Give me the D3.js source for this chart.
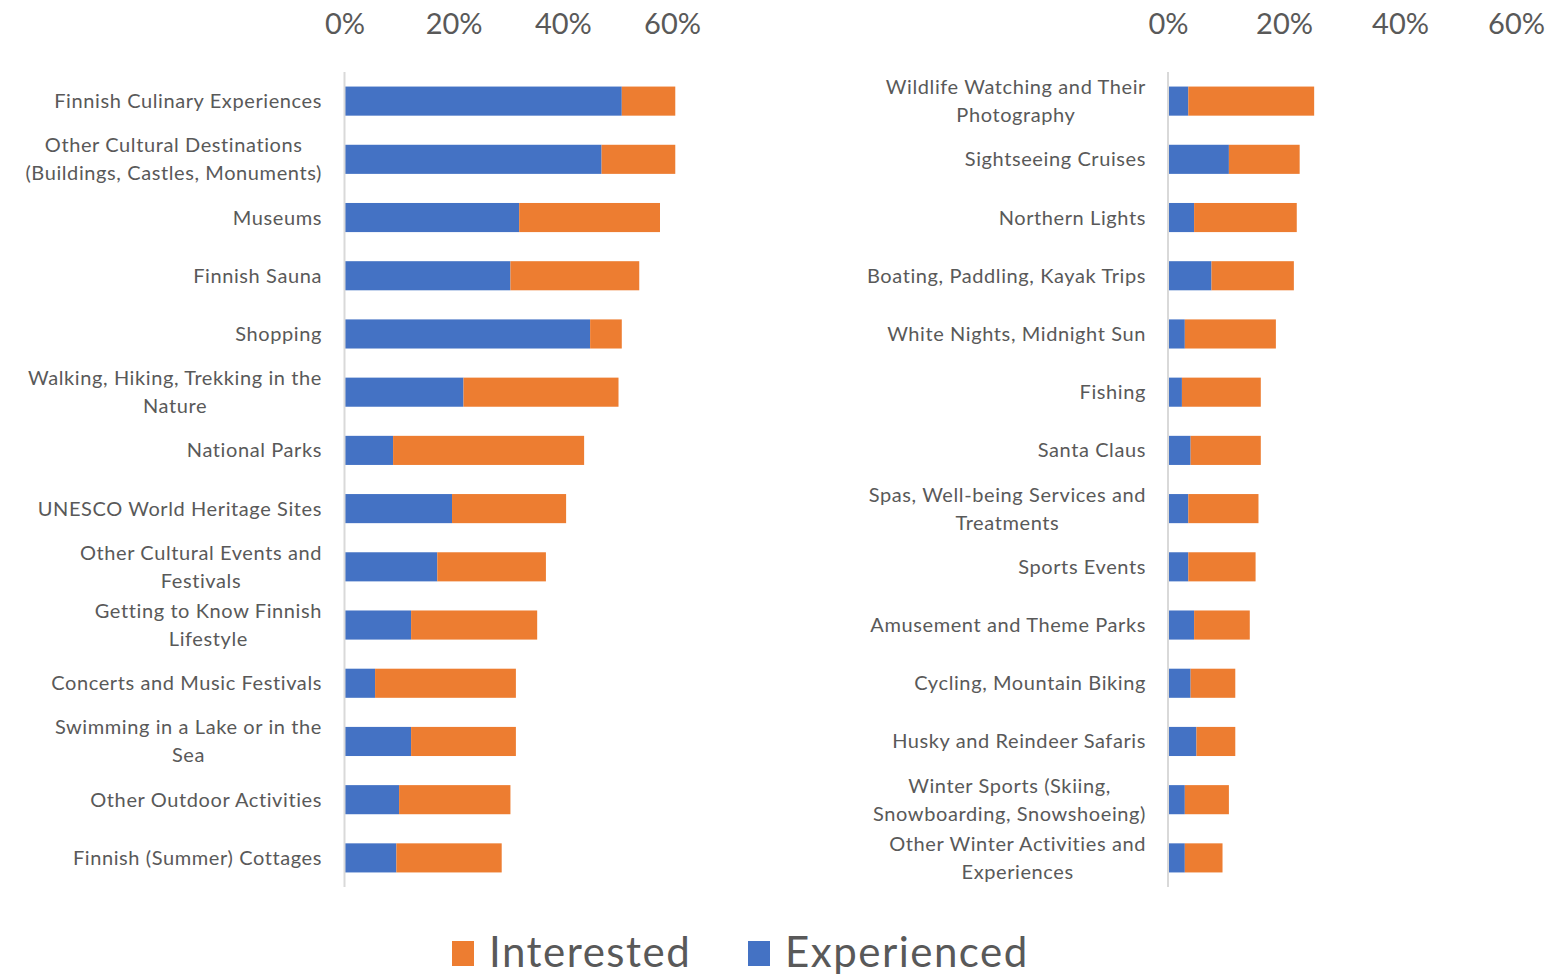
<!DOCTYPE html>
<html>
<head>
<meta charset="utf-8">
<script src="https://cdn.jsdelivr.net/npm/d3@7"></script>
<style>
  html, body { margin: 0; padding: 0; background: #ffffff; }
  svg { display: block; }
</style>
</head>
<body>
<svg id="chart" width="1550" height="976"></svg>
<script>
// ---------------- DATA ----------------
const leftCategories = [
  "Finnish Culinary Experiences",
  "Other Cultural Destinations\n(Buildings, Castles, Monuments)",
  "Museums",
  "Finnish Sauna",
  "Shopping",
  "Walking, Hiking, Trekking in the\nNature",
  "National Parks",
  "UNESCO World Heritage Sites",
  "Other Cultural Events and\nFestivals",
  "Getting to Know Finnish\nLifestyle",
  "Concerts and Music Festivals",
  "Swimming in a Lake or in the\nSea",
  "Other Outdoor Activities",
  "Finnish (Summer) Cottages"
];
const leftExperienced = [0.508, 0.471, 0.320, 0.304, 0.450, 0.218, 0.089, 0.197, 0.170, 0.122, 0.056, 0.122, 0.100, 0.095];
const leftInterested  = [0.098, 0.135, 0.258, 0.236, 0.058, 0.284, 0.350, 0.209, 0.199, 0.231, 0.258, 0.192, 0.204, 0.193];

const rightCategories = [
  "Wildlife Watching and Their\nPhotography",
  "Sightseeing Cruises",
  "Northern Lights",
  "Boating, Paddling, Kayak Trips",
  "White Nights, Midnight Sun",
  "Fishing",
  "Santa Claus",
  "Spas, Well-being Services and\nTreatments",
  "Sports Events",
  "Amusement and Theme Parks",
  "Cycling, Mountain Biking",
  "Husky and Reindeer Safaris",
  "Winter Sports (Skiing,\nSnowboarding, Snowshoeing)",
  "Other Winter Activities and\nExperiences"
];
const rightExperienced = [0.035, 0.105, 0.045, 0.075, 0.029, 0.024, 0.039, 0.035, 0.035, 0.045, 0.039, 0.049, 0.029, 0.029];
const rightInterested  = [0.217, 0.122, 0.177, 0.142, 0.157, 0.136, 0.121, 0.121, 0.116, 0.096, 0.077, 0.067, 0.076, 0.065];

const tickValues = [0, 0.2, 0.4, 0.6];
const seriesNames = ["Interested", "Experienced"];
const seriesColors = ["#ED7D31", "#4472C4"];

// ---------------- DRAW ----------------
const svg = d3.select("#chart");
const FONT = "Lato, 'Open Sans', sans-serif";
const TEXT_COLOR = "#595959";

function drawPanel(cfg) {
  const { categories, experienced, interested, x0, x60, labelRight } = cfg;
  const x = d3.scaleLinear().domain([0, 0.6]).range([x0, x60]);
  const y = d3.scaleBand().domain(categories).range([72, 887])
    .paddingInner(0.5).paddingOuter(0.25);

  const g = svg.append("g");

  // top value axis
  const ax = g.append("g")
    .attr("transform", "translate(0,34)")
    .call(d3.axisTop(x).tickValues(tickValues).tickSize(0).tickPadding(0)
      .tickFormat(d3.format(".0%")));
  ax.select(".domain").remove();
  ax.selectAll("text")
    .attr("font-family", FONT)
    .attr("font-size", 29)
    .attr("fill", TEXT_COLOR)
    .attr("dy", "0");

  // bars
  const rows = categories.map((c, i) => ({ c, e: experienced[i], n: interested[i] }));
  g.append("g").selectAll("rect.exp").data(rows).join("rect")
    .attr("class", "exp")
    .attr("x", d => x(0))
    .attr("y", d => y(d.c))
    .attr("width", d => x(d.e) - x(0))
    .attr("height", y.bandwidth())
    .attr("fill", seriesColors[1]);
  g.append("g").selectAll("rect.int").data(rows).join("rect")
    .attr("class", "int")
    .attr("x", d => x(d.e))
    .attr("y", d => y(d.c))
    .attr("width", d => x(d.e + d.n) - x(d.e))
    .attr("height", y.bandwidth())
    .attr("fill", seriesColors[0]);

  // category axis line
  g.append("line")
    .attr("x1", x(0)).attr("x2", x(0))
    .attr("y1", y.range()[0]).attr("y2", y.range()[1])
    .attr("stroke", "#d9d9d9").attr("stroke-width", 2);

  // category labels (multi-line centered, block right-aligned)
  const lineH = 28;
  categories.forEach(c => {
    const lines = c.split("\n");
    const cy = y(c) + y.bandwidth() / 2;
    const t = g.append("text")
      .attr("font-family", FONT)
      .attr("font-size", 20)
      .attr("letter-spacing", "0.6px")
      .attr("fill", TEXT_COLOR)
      .attr("text-anchor", "middle");
    const spans = lines.map((ln, i) => t.append("tspan")
      .attr("y", cy + (i - (lines.length - 1) / 2) * lineH)
      .attr("dy", "0.35em")
      .text(ln));
    const maxW = d3.max(spans, s => s.node().getComputedTextLength());
    spans.forEach(s => s.attr("x", labelRight - maxW / 2));
  });
}

drawPanel({
  categories: leftCategories, experienced: leftExperienced, interested: leftInterested,
  x0: 344.5, x60: 672, labelRight: 322
});
drawPanel({
  categories: rightCategories, experienced: rightExperienced, interested: rightInterested,
  x0: 1168, x60: 1516, labelRight: 1146
});

// legend
const legend = svg.append("g");
const legendItems = [
  { name: seriesNames[0], color: seriesColors[0], x: 452 },
  { name: seriesNames[1], color: seriesColors[1], x: 748 }
];
legendItems.forEach(it => {
  legend.append("rect")
    .attr("x", it.x).attr("y", 941).attr("width", 22).attr("height", 25)
    .attr("fill", it.color);
  legend.append("text")
    .attr("x", it.x + 37).attr("y", 967)
    .attr("font-family", FONT)
    .attr("font-size", 42)
    .attr("letter-spacing", "1.5px")
    .attr("fill", TEXT_COLOR)
    .text(it.name);
});
</script>
</body>
</html>
